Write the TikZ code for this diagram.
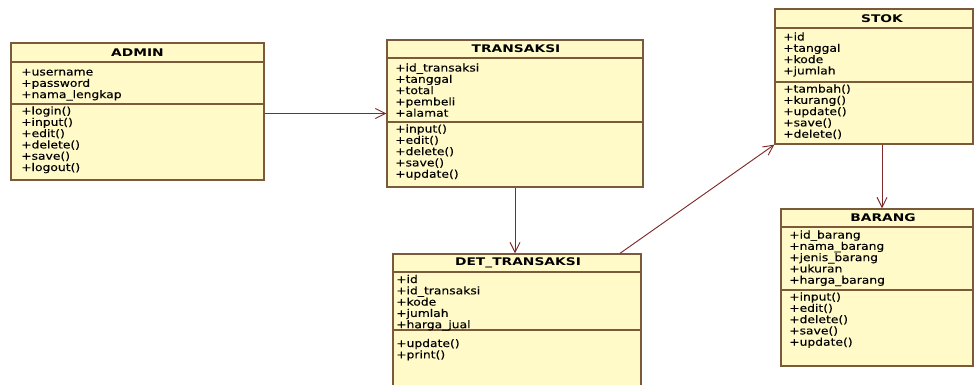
\documentclass[tikz,border=0pt]{standalone}
\usepackage{fontspec}
\usetikzlibrary{arrows.meta,fit}
\newfontfamily\memberfont[FakeStretch=1.17,FakeBold=0.12]{DejaVu Sans}
\newfontfamily\titlefont[FakeStretch=1.31]{DejaVu Sans}
\definecolor{classfill}{HTML}{FFFAC8}
\definecolor{classline}{HTML}{7A5A3A}
\definecolor{linkline}{HTML}{7F2A2A}
\tikzset{
  classbox/.style={draw=classline, fill=classfill, line width=1pt, inner sep=0pt},
  divider/.style={draw=classline, line width=0.8pt},
  classtitle/.style={font=\titlefont\bfseries\fontsize{7.9pt}{9pt}\selectfont, inner sep=0pt},
  member/.style={anchor=base west, inner sep=0pt, font=\memberfont\fontsize{7.9pt}{9pt}\selectfont},
  link/.style={draw=linkline, line width=0.7pt, -{Straight Barb[length=7.5pt,width=7.5pt]}},
}
% one text line per member, 11.3px apart
\newcommand\memberlist[4]{%
  \foreach \m [count=\k from 0] in {#4} {
    \node[member, name=#1\k] at (#2, #3+\k*11.3) {\m};
  }%
}
\begin{document}
\begin{tikzpicture}[x=0.75pt, y=-0.75pt]
\useasboundingbox (0,0) rectangle (974,385);
\fill[white] (0,0) rectangle (974,385);
\clip (0,0) rectangle (974,385);

% ADMIN
\node[classbox, fit={(11,43) (264,180)}] (admin) {};
\draw[divider] (11,62) -- (264,62);
\draw[divider] (11,104) -- (264,104);
\node[classtitle] (admintitle) at (137.5,52.5) {ADMIN};
\memberlist{adminA}{21}{75.5}{+username, +password, +nama\_lengkap}
\memberlist{adminM}{21}{114.5}{+login(), +input(), +edit(), +delete(), +save(), +logout()}

% TRANSAKSI
\node[classbox, fit={(387,40) (643,187)}] (transaksi) {};
\draw[divider] (387,58) -- (643,58);
\draw[divider] (387,122) -- (643,122);
\node[classtitle] (transtitle) at (516,49) {TRANSAKSI};
\memberlist{transA}{395}{71.5}{+id\_transaksi, +tanggal, +total, +pembeli, +alamat}
\memberlist{transM}{395}{132.5}{+input(), +edit(), +delete(), +save(), +update()}

% DET_TRANSAKSI
\node[classbox, fit={(393,254) (641,400)}] (det) {};
\draw[divider] (393,272) -- (641,272);
\draw[divider] (393,330) -- (641,330);
\node[classtitle] (dettitle) at (518,263) {DET\_TRANSAKSI};
\memberlist{detA}{396}{283}{+id, +id\_transaksi, +kode, +jumlah, +harga\_jual}
\memberlist{detM}{396}{347}{+update(), +print()}

% STOK
\node[classbox, fit={(775,9) (973,144)}] (stok) {};
\draw[divider] (775,28) -- (973,28);
\draw[divider] (775,82) -- (973,82);
\node[classtitle] (stoktitle) at (882,18.5) {STOK};
\memberlist{stokA}{783}{40.5}{+id, +tanggal, +kode, +jumlah}
\memberlist{stokM}{783}{92.5}{+tambah(), +kurang(), +update(), +save(), +delete()}

% BARANG
\node[classbox, fit={(781,209) (973,366)}] (barang) {};
\draw[divider] (781,227) -- (973,227);
\draw[divider] (781,290) -- (973,290);
\node[classtitle] (barangtitle) at (883,218) {BARANG};
\memberlist{barangA}{789}{238.5}{+id\_barang, +nama\_barang, +jenis\_barang, +ukuran, +harga\_barang}
\memberlist{barangM}{789}{300.5}{+input(), +edit(), +delete(), +save(), +update()}

% associations
\coordinate (detout) at (620,0);
\coordinate (stokout) at (882,0);
\draw[link] (admin.east |- transaksi.west) -- (transaksi.west);
\draw[link] (transaksi.south) -- (transaksi.south |- det.north);
\draw[link] (det.north -| detout) -- (stok.south west);
\draw[link] (stok.south -| stokout) -- (barang.north -| stokout);
\end{tikzpicture}
\end{document}
